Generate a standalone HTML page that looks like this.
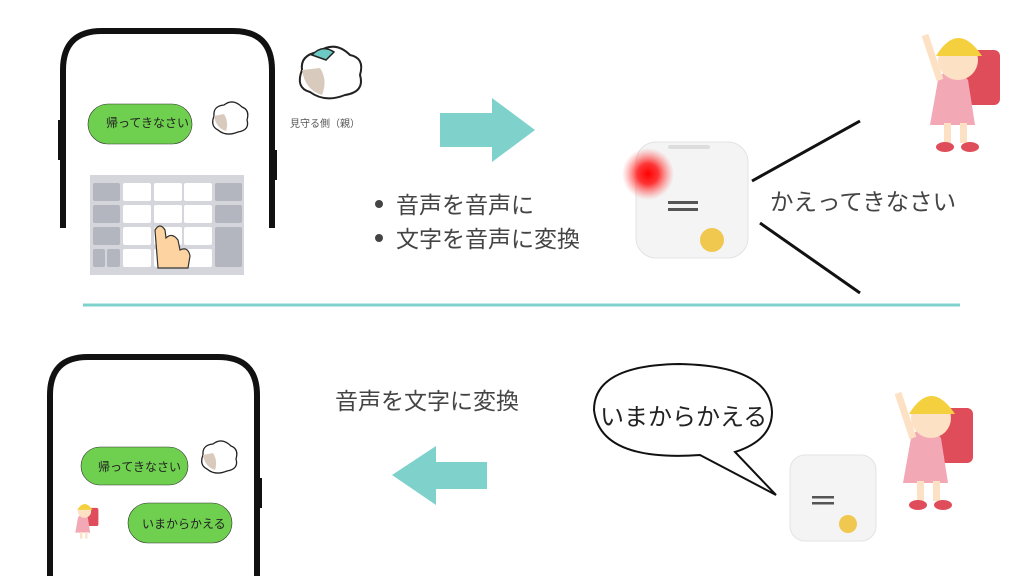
<!DOCTYPE html>
<html><head><meta charset="utf-8"><style>
body{margin:0;width:1024px;height:576px;background:#fff;overflow:hidden;position:relative;font-family:"Liberation Sans","Noto Sans CJK JP",sans-serif}
.a{position:absolute}
</style></head><body>
<svg class="a" style="left:0;top:0" width="1024" height="576">
<defs>
<radialGradient id="g"><stop offset="0" stop-color="#ff0000"/><stop offset="0.4" stop-color="#ff2020" stop-opacity="0.9"/><stop offset="1" stop-color="#ff6060" stop-opacity="0"/></radialGradient>
</defs>
<path d="M63 228 V70 Q63 31 102 31 H233 Q272 31 272 70 V228" fill="none" stroke="#111" stroke-width="6"/>
<rect x="58" y="120" width="4" height="40" fill="#111"/><rect x="273" y="150" width="4" height="30" fill="#111"/>
<rect x="88" y="104" width="104" height="40" rx="20" fill="#6fcf4f" stroke="#333" stroke-width="0.6"/>
<rect x="90" y="175" width="154" height="100" fill="#d4d6dc"/>
<g fill="#fff">
<rect x="123" y="183" width="28" height="18" rx="2"/><rect x="154" y="183" width="28" height="18" rx="2"/><rect x="184" y="183" width="28" height="18" rx="2"/>
<rect x="123" y="205" width="28" height="18" rx="2"/><rect x="154" y="205" width="28" height="18" rx="2"/><rect x="184" y="205" width="28" height="18" rx="2"/>
<rect x="123" y="227" width="28" height="18" rx="2"/><rect x="154" y="227" width="28" height="18" rx="2"/><rect x="184" y="227" width="28" height="18" rx="2"/>
<rect x="123" y="249" width="28" height="18" rx="2"/><rect x="154" y="249" width="28" height="18" rx="2"/><rect x="184" y="249" width="28" height="18" rx="2"/>
</g>
<g fill="#b3b6bf"><rect x="93" y="183" width="27" height="18" rx="2"/><rect x="93" y="205" width="27" height="18" rx="2"/><rect x="93" y="227" width="27" height="18" rx="2"/><rect x="93" y="249" width="12" height="18" rx="2"/><rect x="107" y="249" width="13" height="18" rx="2"/><rect x="215" y="183" width="27" height="18" rx="2"/><rect x="215" y="205" width="27" height="18" rx="2"/><rect x="215" y="227" width="27" height="40" rx="2"/></g>
<path d="M158 268 L155 230 Q160 222 165 230 L166 238 Q172 232 178 240 L180 250 Q188 246 190 256 L188 268 Z" fill="#fcd3a1" stroke="#333" stroke-width="1.2"/>
<path d="M302 70 Q300 55 318 52 Q335 40 350 55 Q365 58 360 75 Q365 92 345 95 Q325 103 310 92 Q295 88 302 70Z" fill="#fff" stroke="#222" stroke-width="2"/>
<path d="M302 70 Q305 90 322 95 Q328 80 320 68 Z" fill="#d8cbbd"/>
<path d="M312 55 Q322 44 334 52 L326 60 Z" fill="#6cc9c4" stroke="#222" stroke-width="1.5"/>
<path d="M214 116 Q213 106 224 105 Q233 98 242 107 Q250 110 247 120 Q250 130 238 132 Q226 137 218 130 Q210 126 214 116Z" fill="#fff" stroke="#222" stroke-width="1.3"/>
<path d="M214 116 Q216 128 226 131 Q229 122 224 114Z" fill="#d8cbbd"/>
<path d="M203 455 Q202 445 213 444 Q222 437 231 446 Q239 449 236 459 Q239 469 227 471 Q215 476 207 469 Q199 465 203 455Z" fill="#fff" stroke="#222" stroke-width="1.3"/>
<path d="M203 455 Q205 467 215 470 Q218 461 213 453Z" fill="#d8cbbd"/>
<path d="M440 113 H492 V98 L535 130 L492 162 V147 H440 Z" fill="#7fd1cc"/>
<circle cx="379" cy="204" r="4" fill="#444"/><circle cx="379" cy="238" r="4" fill="#444"/>
<rect x="636" y="142" width="112" height="116" rx="20" fill="#f4f4f4" stroke="#e3e3e3"/>
<rect x="668" y="145" width="42" height="4" rx="2" fill="#ddd"/>
<rect x="668" y="201" width="30" height="3" fill="#555"/><rect x="668" y="208" width="30" height="3" fill="#555"/>
<circle cx="712" cy="240" r="12" fill="#f0c850"/>
<circle cx="648" cy="174" r="26" fill="url(#g)"/>
<line x1="752" y1="181" x2="860" y2="121" stroke="#111" stroke-width="3"/>
<line x1="760" y1="223" x2="860" y2="293" stroke="#111" stroke-width="3"/>
<line x1="83" y1="305" x2="960" y2="305" stroke="#7fd1cc" stroke-width="3"/>
<path d="M50 576 V395 Q50 357 88 357 H218 Q257 357 257 395 V576" fill="none" stroke="#111" stroke-width="6"/>
<rect x="258" y="478" width="4" height="30" fill="#111"/>
<rect x="81" y="447" width="107" height="38" rx="19" fill="#6fcf4f" stroke="#333" stroke-width="0.6"/>
<rect x="128" y="503" width="104" height="40" rx="20" fill="#6fcf4f" stroke="#333" stroke-width="0.6"/>
<path d="M487 462 H436 V446 L392 475 L436 505 V489 H487 Z" fill="#7fd1cc"/>
<path d="M700 455 Q600 462 594 410 Q594 365 680 364 Q770 366 772 412 Q772 440 735 452 L776 495 Z" fill="#fff" stroke="#111" stroke-width="2"/>
<rect x="790" y="455" width="86" height="86" rx="15" fill="#f4f4f4" stroke="#e3e3e3"/>
<rect x="812" y="496" width="22" height="2.5" fill="#555"/><rect x="812" y="502" width="22" height="2.5" fill="#555"/>
<circle cx="848" cy="524" r="9" fill="#f0c850"/>
<g transform="translate(920,20)">
<rect x="40" y="30" width="40" height="55" rx="6" fill="#e04d5a"/>
<path d="M18 60 Q30 40 48 60 L55 105 H10 Z" fill="#f3a8b5"/>
<circle cx="38" cy="40" r="20" fill="#fde1c5"/><path d="M16 36 Q38 0 62 36Z" fill="#f4d03f"/>
<path d="M5 15 L20 60" stroke="#fde1c5" stroke-width="7"/>
<rect x="24" y="103" width="7" height="20" fill="#fde1c5"/><rect x="40" y="103" width="7" height="20" fill="#fde1c5"/>
<ellipse cx="25" cy="127" rx="9" ry="5" fill="#e04d5a"/><ellipse cx="50" cy="127" rx="9" ry="5" fill="#e04d5a"/>
</g>
<g transform="translate(893,378)">
<rect x="40" y="30" width="40" height="55" rx="6" fill="#e04d5a"/>
<path d="M18 60 Q30 40 48 60 L55 105 H10 Z" fill="#f3a8b5"/>
<circle cx="38" cy="40" r="20" fill="#fde1c5"/><path d="M16 36 Q38 0 62 36Z" fill="#f4d03f"/>
<path d="M5 15 L20 60" stroke="#fde1c5" stroke-width="7"/>
<rect x="24" y="103" width="7" height="20" fill="#fde1c5"/><rect x="40" y="103" width="7" height="20" fill="#fde1c5"/>
<ellipse cx="25" cy="127" rx="9" ry="5" fill="#e04d5a"/><ellipse cx="50" cy="127" rx="9" ry="5" fill="#e04d5a"/>
</g>
<g transform="translate(72,498) scale(0.33)">
<rect x="40" y="30" width="40" height="55" rx="6" fill="#e04d5a"/>
<path d="M18 60 Q30 40 48 60 L55 105 H10 Z" fill="#f3a8b5"/>
<circle cx="38" cy="40" r="20" fill="#fde1c5"/><path d="M16 36 Q38 0 62 36Z" fill="#f4d03f"/>
<rect x="24" y="103" width="7" height="20" fill="#fde1c5"/><rect x="40" y="103" width="7" height="20" fill="#fde1c5"/>
</g>
</svg>
<div class="a" style="left:106px;top:114px;font-size:12px;color:#222">帰ってきなさい</div>
<div class="a" style="left:290px;top:115px;font-size:10px;color:#555">見守る側（親）</div>
<div class="a" style="left:396px;top:188px;font-size:23px;color:#444;line-height:34px">音声を音声に<br>文字を音声に変換</div>
<div class="a" style="left:770px;top:183px;font-size:23.5px;color:#444">かえってきなさい</div>
<div class="a" style="left:335px;top:382px;font-size:23px;color:#444">音声を文字に変換</div>
<div class="a" style="left:600px;top:397px;font-size:24px;color:#222">いまからかえる</div>
<div class="a" style="left:98px;top:458px;font-size:12px;color:#222">帰ってきなさい</div>
<div class="a" style="left:142px;top:515px;font-size:12px;color:#222">いまからかえる</div>
</body></html>
